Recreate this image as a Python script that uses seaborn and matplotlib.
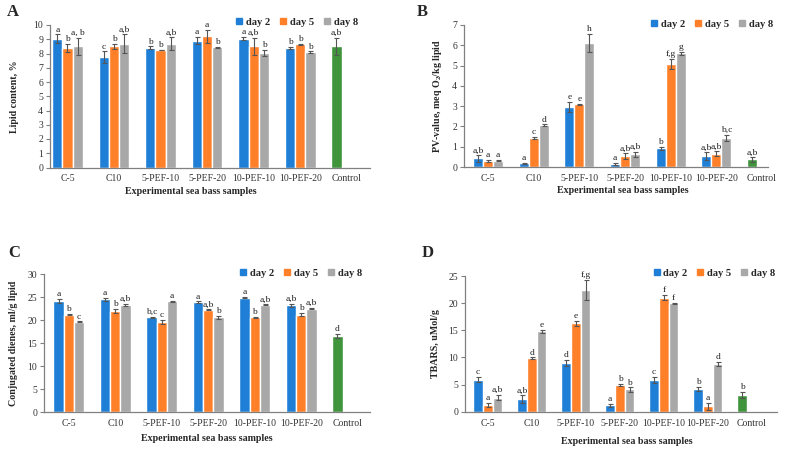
import numpy as np
import pandas as pd
import matplotlib
matplotlib.use('Agg')
import matplotlib.pyplot as plt
from matplotlib.lines import Line2D
import seaborn as sns

samples = ['C-5', 'C10', '5-PEF-10', '5-PEF-20', '10-PEF-10', '10-PEF-20', 'Control']
days = ['day 2', 'day 5', 'day 8']

# A - lipid content, %
lipid_d2 = [9.05, 7.75, 8.4, 8.9, 9.05, 8.4, 8.5]
lipid_d5 = [8.4, 8.5, 8.25, 9.2, 8.5, 8.65, None]
lipid_d8 = [8.5, 8.7, 8.7, 8.45, 8.05, 8.1, None]
lipid_e2 = [0.3, 0.4, 0.1, 0.25, 0.1, 0.08, 0.6]
lipid_e5 = [0.3, 0.2, 0.03, 0.45, 0.6, 0.03, None]
lipid_e8 = [0.6, 0.65, 0.45, 0.03, 0.2, 0.06, None]
lipid_l2 = ['a', 'c', 'b', 'a', 'a', 'b', 'a,b']
lipid_l5 = ['b', 'b', 'b', 'a', 'a,b', 'b', None]
lipid_l8 = ['a, b', 'a,b', 'a,b', 'b', 'b', 'b', None]

# B - PV value
pv_d2 = [0.42, 0.18, 2.95, 0.15, 0.92, 0.53, 0.37]
pv_d5 = [0.3, 1.42, 3.1, 0.52, 5.08, 0.65, None]
pv_d8 = [0.32, 2.07, 6.1, 0.63, 5.6, 1.43, None]
pv_e2 = [0.15, 0.03, 0.25, 0.05, 0.08, 0.2, 0.12]
pv_e5 = [0.05, 0.05, 0.03, 0.15, 0.25, 0.12, None]
pv_e8 = [0.03, 0.03, 0.45, 0.12, 0.07, 0.15, None]
pv_l2 = ['a,b', 'a', 'e', 'a', 'b', 'a,b', 'a,b']
pv_l5 = ['a', 'c', 'e', 'a,b', 'f,g', 'a,b', None]
pv_l8 = ['a', 'd', 'h', 'a,b', 'g', 'b,c', None]

# C - conjugated dienes
cd_d2 = [24.2, 24.5, 20.6, 23.9, 24.9, 23.2, 16.6]
cd_d5 = [21.2, 22.0, 19.6, 22.2, 20.6, 21.2, None]
cd_d8 = [19.6, 23.3, 24.1, 20.6, 23.3, 22.5, None]
cd_e2 = [0.4, 0.3, 0.1, 0.2, 0.2, 0.4, 0.4]
cd_e5 = [0.1, 0.4, 0.4, 0.1, 0.05, 0.3, None]
cd_e8 = [0.1, 0.3, 0.1, 0.3, 0.1, 0.2, None]
cd_l2 = ['a', 'a', 'b,c', 'a', 'a', 'a,b', 'd']
cd_l5 = ['b', 'b', 'c', 'a,b', 'b', 'b', None]
cd_l8 = ['c', 'a,b', 'a', 'b', 'a,b', 'a,b', None]

# D - TBARS
tb_d2 = [5.9, 2.3, 9.0, 1.2, 5.8, 4.2, 3.1]
tb_d5 = [1.2, 9.9, 16.3, 4.9, 21.0, 1.0, None]
tb_d8 = [2.6, 14.8, 22.4, 4.1, 20.0, 8.8, None]
tb_e2 = [0.5, 0.7, 0.6, 0.3, 0.6, 0.4, 0.5]
tb_e5 = [0.4, 0.1, 0.5, 0.2, 0.5, 0.6, None]
tb_e8 = [0.5, 0.3, 1.9, 0.4, 0.1, 0.4, None]
tb_l2 = ['c', 'a,b', 'd', 'a', 'c', 'b', 'b']
tb_l5 = ['a', 'd', 'e', 'b', 'f', 'a', None]
tb_l8 = ['a,b', 'e', 'f,g', 'b', 'f', 'd', None]

colors = ['#1f7fd6', '#ff8029', '#a8a8a8']
green = '#3f943c'

sns.set_theme(style='white')
plt.rcParams['font.family'] = ['Liberation Serif', 'DejaVu Serif']
plt.rcParams['mathtext.fontset'] = 'custom'
plt.rcParams['mathtext.rm'] = 'Liberation Serif:bold'
plt.rcParams['mathtext.bf'] = 'Liberation Serif:bold'

fig = plt.figure(figsize=(7.89, 4.51), dpi=100)


def panel(rect, vals, errs, letters, ymax, ystep, xlim, ylabel, ylab_x, xlab_xy, leg_xy, tag, tag_xy):
    ax = fig.add_axes(rect)
    rows = []
    for d, v in zip(days, vals):
        for s, y in zip(samples, v):
            rows.append({'sample': s, 'day': d, 'value': np.nan if y is None else y})
    df = pd.DataFrame(rows)
    sns.barplot(data=df, x='sample', y='value', hue='day', order=samples, hue_order=days,
                palette=colors, width=0.66, errorbar=None, legend=False, ax=ax,
                saturation=1)
    bar_groups = list(ax.containers)  # copy before errorbar adds its own containers
    for i, cont in enumerate(bar_groups):
        for bar in cont:
            h = bar.get_height()
            if np.isnan(h):
                continue
            xc = bar.get_x() + bar.get_width() / 2
            k = int(round(xc))
            e = errs[i][k]
            if i == 0 and k == 6:
                bar.set_facecolor(green)
            ax.errorbar(xc, h, yerr=e, ecolor='#555555', elinewidth=0.8,
                        capsize=1.8, capthick=0.8, fmt='none')
            ax.annotate(letters[i][k], (xc, h + e), xytext=(0, 0.5), textcoords='offset points',
                        ha='center', va='bottom', fontsize=6.8, color='#222222')
    ax.set_ylim(0, ymax)
    ax.set_yticks(np.arange(0, ymax + 0.01, ystep))
    ax.set_xlim(*xlim)
    sns.despine(ax=ax)
    for sp in ['left', 'bottom']:
        ax.spines[sp].set_color('#808080')
        ax.spines[sp].set_linewidth(0.9)
    ax.tick_params(axis='y', length=3, width=0.8, color='#808080', labelsize=7,
                   labelcolor='#333333', pad=2, left=True)
    ax.tick_params(axis='x', length=0, labelsize=7, labelcolor='#333333', pad=5)
    ax.set_xlabel('Experimental sea bass samples', fontsize=7.2, fontweight='bold', va='center')
    ax.xaxis.set_label_coords(*xlab_xy)
    ax.set_ylabel(ylabel, fontsize=7.2, fontweight='bold', va='center')
    ax.yaxis.set_label_coords(ylab_x, 0.5)
    handles = [Line2D([], [], marker='s', color=c, linestyle='none', markersize=5) for c in colors]
    ax.legend(handles, days, loc='center right', bbox_to_anchor=leg_xy, ncol=3, frameon=False,
              prop={'weight': 'bold', 'size': 7.6}, handlelength=0.6, handletextpad=0.35,
              columnspacing=0.9, borderpad=0, borderaxespad=0)
    fig.text(tag_xy[0], tag_xy[1], tag, fontsize=12, fontweight='bold', ha='left', va='center')
    return ax


W, H = 789, 451
panel([50 / W, 1 - 167.5 / H, 320 / W, 142.5 / H],
      [lipid_d2, lipid_d5, lipid_d8], [lipid_e2, lipid_e5, lipid_e8], [lipid_l2, lipid_l5, lipid_l8],
      10, 1, (-0.376, 6.5), 'Lipid content, %', -0.11, (0.44, -0.165), (0.9625, 1.02),
      'A', (7 / W, 1 - 12 / H))
panel([464 / W, 1 - 167 / H, 304 / W, 142 / H],
      [pv_d2, pv_d5, pv_d8], [pv_e2, pv_e5, pv_e8], [pv_l2, pv_l5, pv_l8],
      7, 1, (-0.525, 6.13), r'PV-value, meq O$_2$/kg lipid', -0.086, (0.523, -0.169), (1.016, 1.007),
      'B', (417 / W, 1 - 12 / H))
panel([44 / W, 1 - 412.3 / H, 326 / W, 138.3 / H],
      [cd_d2, cd_d5, cd_d8], [cd_e2, cd_e5, cd_e8], [cd_l2, cd_l5, cd_l8],
      30, 5, (-0.533, 6.48), 'Conjugated dienes, ml/g lipid', -0.095, (0.50, -0.186), (0.975, 1.007),
      'C', (8 / W, 1 - 253 / H))
panel([465 / W, 1 - 411.7 / H, 312 / W, 135.7 / H],
      [tb_d2, tb_d5, tb_d8], [tb_e2, tb_e5, tb_e8], [tb_l2, tb_l5, tb_l8],
      25, 5, (-0.52, 6.57), 'TBARS, uMol/g', -0.093, (0.519, -0.216), (0.994, 1.022),
      'D', (422 / W, 1 - 253 / H))

fig.savefig('out.png', dpi=100)
